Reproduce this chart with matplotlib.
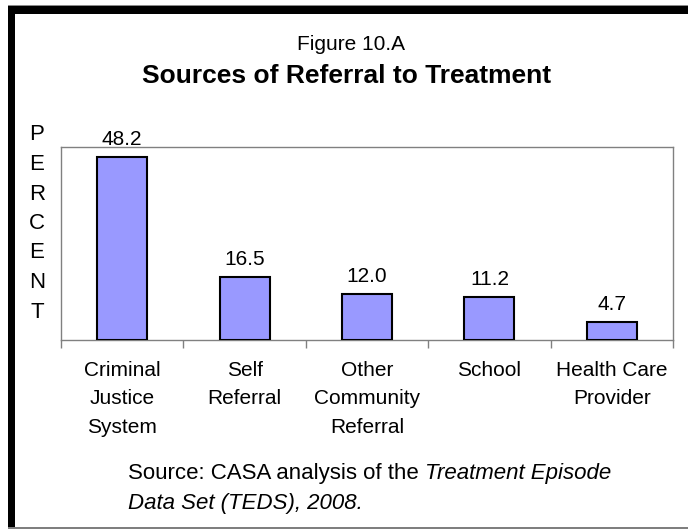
import matplotlib
matplotlib.use("Agg")
import matplotlib.pyplot as plt
from matplotlib.patches import Rectangle
from matplotlib.ticker import FixedLocator

categories = ["Criminal\nJustice\nSystem", "Self\nReferral", "Other\nCommunity\nReferral",
              "School", "Health Care\nProvider"]
values = [48.2, 16.5, 12.0, 11.2, 4.7]
value_labels = ["48.2", "16.5", "12.0", "11.2", "4.7"]

plt.rcParams['font.family'] = ['Liberation Sans', 'DejaVu Sans']

W, H = 688, 529
fig = plt.figure(figsize=(W/100, H/100), dpi=100)
fig.patch.set_facecolor('white')

# frame
def px_rect(x0, y0, x1, y1, color):
    fig.patches.append(Rectangle((x0/W, 1-y1/H), (x1-x0)/W, (y1-y0)/H,
                                 transform=fig.transFigure, color=color, zorder=0,
                                 linewidth=0))
px_rect(8, 5, 688, 7, '#8a8a8a')      # top gray edge
px_rect(8, 6, 688, 14, 'black')       # top band
px_rect(8, 6, 15, 529, 'black')       # left band
px_rect(8, 527, 688, 529, '#7f7f7f')  # bottom line

ax = fig.add_axes([61/W, 1-340/H, 612/W, 193/H])
x = list(range(len(categories)))
ax.bar(x, values, width=0.41, color='#9999ff', edgecolor='black', linewidth=1.5, zorder=3)
ax.set_xlim(-0.5, len(categories)-0.5)
ax.set_ylim(0, 50.8)

for xi, v, lab in zip(x, values, value_labels):
    ax.annotate(lab, (xi, v), xytext=(0, 6), textcoords='offset points',
                ha='center', va='bottom', fontsize=15)

for s in ['left', 'top', 'right', 'bottom']:
    ax.spines[s].set_color('#808080')
    ax.spines[s].set_linewidth(1.0)
ax.set_yticks([])
ax.set_xticks(x)
ax.set_xticklabels(categories, fontsize=15, linespacing=1.64, va='top')
ax.tick_params(axis='x', which='major', length=0, pad=15)
ax.xaxis.set_minor_locator(FixedLocator([i - 0.5 for i in range(len(categories)+1)]))
ax.tick_params(axis='x', which='minor', length=6, color='#808080', width=1.0, direction='out')

# PERCENT vertical letters
for i, ch in enumerate("PERCENT"):
    fig.text(37/W, 1-(135 + i*29.5)/H, ch, ha='center', va='center', fontsize=16)

fig.text(351/W, 1-45/H, "Figure 10.A", ha='center', va='center', fontsize=15)
fig.text(347/W, 1-76/H, "Sources of Referral to Treatment", ha='center', va='center',
         fontsize=19, fontweight='bold')

src_x = 128
src_y = 1-474/H
t = fig.text(src_x/W, src_y, "Source: CASA analysis of the ", ha='left', va='center', fontsize=16)
fig.canvas.draw()
bb = t.get_window_extent()
fig.text(bb.x1/W, src_y, "Treatment Episode", ha='left', va='center', fontsize=16, style='italic')
fig.text(src_x/W, 1-504/H, "Data Set (TEDS), 2008.", ha='left', va='center', fontsize=16, style='italic')

fig.savefig("out.png", dpi=100, facecolor='white')
